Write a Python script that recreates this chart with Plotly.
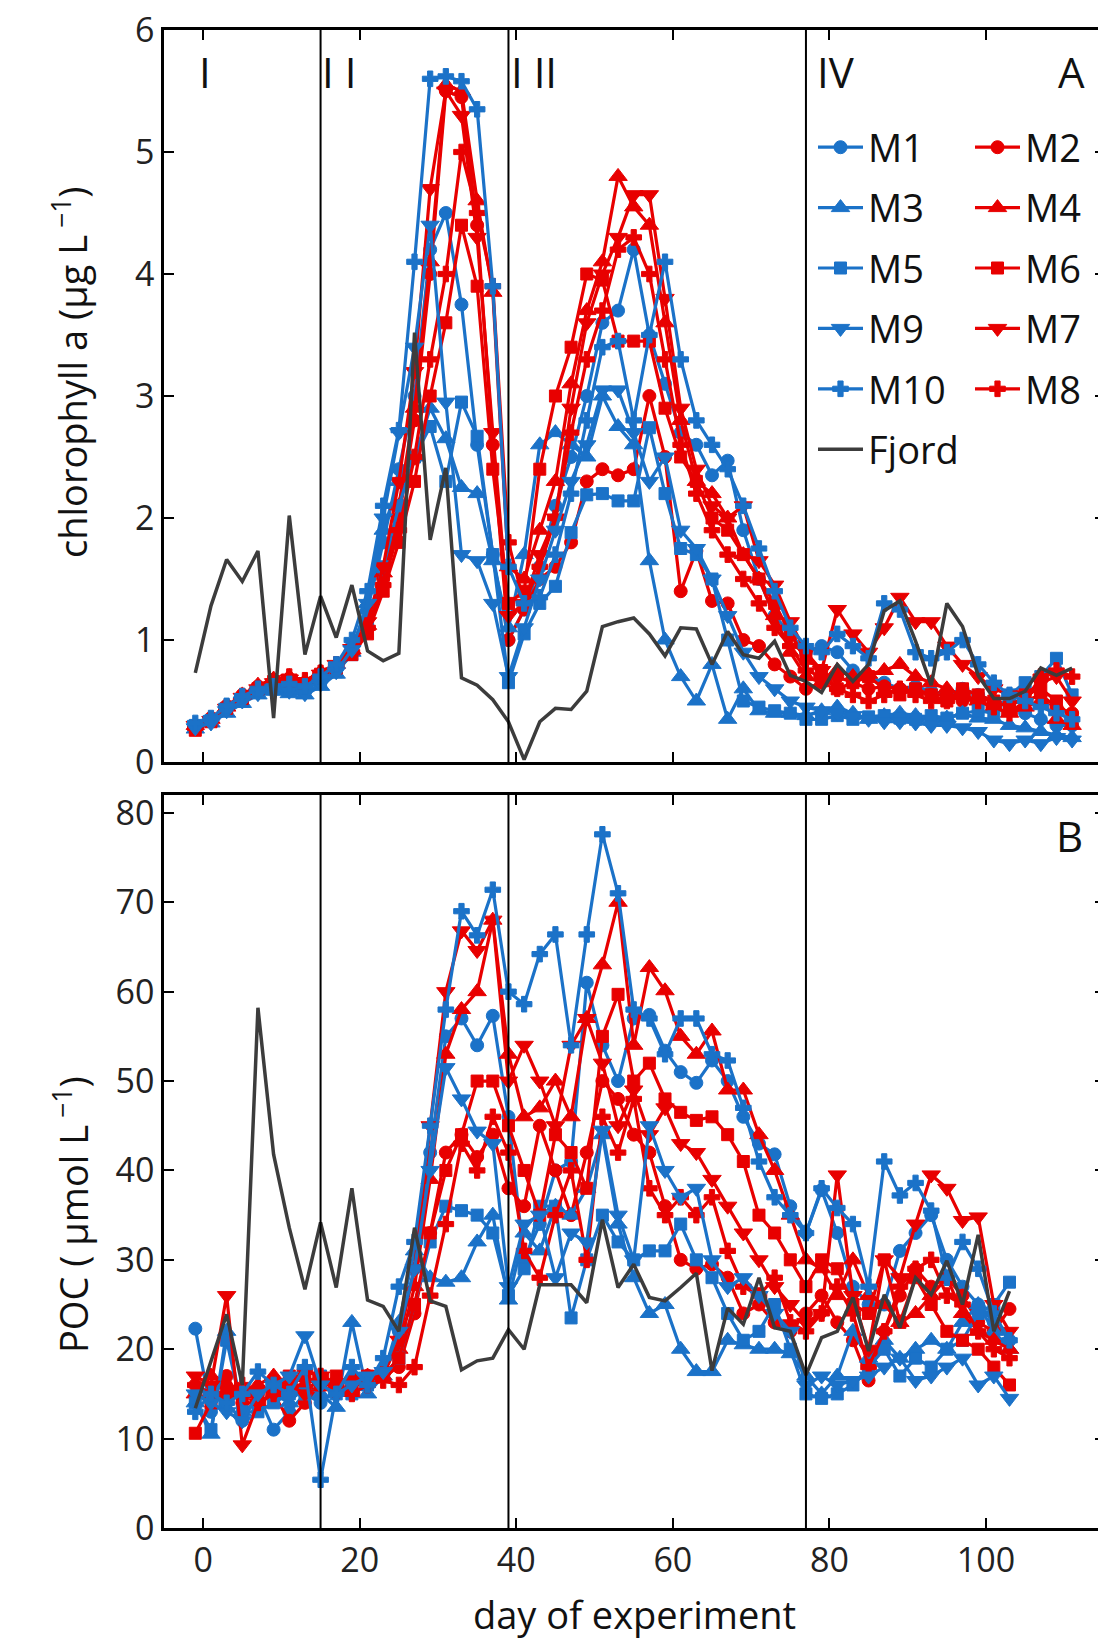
import plotly.graph_objects as go

# ---------------- data ----------------
days_chl = [-1, 1, 3, 5, 7, 9, 11, 13, 15, 17,
            19, 21, 23, 25, 27, 29, 31, 33, 35, 37,
            39, 41, 43, 45, 47, 49, 51, 53, 55, 57,
            59, 61, 63, 65, 67, 69, 71, 73, 75, 77,
            79, 81, 83, 85, 87, 89, 91, 93, 95, 97,
            99, 101, 103, 105, 107, 109, 111]
days_poc = [-1, 1, 3, 5, 7, 9, 11, 13, 15, 17,
            19, 21, 23, 25, 27, 29, 31, 33, 35, 37,
            39, 41, 43, 45, 47, 49, 51, 53, 55, 57,
            59, 61, 63, 65, 67, 69, 71, 73, 75, 77,
            79, 81, 83, 85, 87, 89, 91, 93, 95, 97,
            99, 101, 103]

chl_M1 = [0.30, 0.35, 0.45, 0.52, 0.58, 0.62, 0.60, 0.58, 0.68, 0.75,
          0.95, 1.25, 1.80, 2.40, 3.00, 4.20, 4.50, 3.75, 2.60, 1.70,
          1.00, 1.25, 1.60, 2.10, 2.50, 3.00, 3.60, 3.70, 4.20, 3.50,
          3.10, 2.70, 2.60, 2.35, 2.47, 1.90, 1.50, 1.20, 1.05, 0.90,
          0.95, 0.90, 0.75, 0.70, 0.65, 0.60, 0.62, 0.58, 0.55, 0.60,
          0.55, 0.50, 0.45, 0.40, 0.35, 0.30, 0.30]
chl_M2 = [0.28, 0.36, 0.46, 0.55, 0.62, 0.66, 0.68, 0.65, 0.72, 0.78,
          0.90, 1.10, 1.50, 2.00, 2.80, 4.00, 5.50, 5.45, 4.40, 2.60,
          1.00, 1.25, 1.50, 1.60, 1.80, 2.30, 2.40, 2.35, 2.40, 3.00,
          2.50, 1.40, 1.73, 1.32, 1.30, 1.00, 0.95, 0.80, 0.70, 0.60,
          0.65, 0.70, 0.65, 0.60, 0.62, 0.60, 0.58, 0.55, 0.55, 0.50,
          0.52, 0.50, 0.48, 0.50, 0.55, 0.45, 0.40]
chl_M3 = [0.27, 0.32, 0.40, 0.48, 0.55, 0.58, 0.56, 0.55, 0.62, 0.72,
          0.90, 1.30, 1.90, 2.30, 2.50, 2.90, 2.65, 2.25, 2.20, 1.65,
          1.10, 1.70, 2.60, 2.70, 2.60, 2.50, 3.00, 2.75, 2.60, 1.65,
          1.00, 0.70, 0.50, 0.80, 0.35, 0.60, 0.42, 0.40, 0.40, 0.38,
          0.42, 0.45, 0.40, 0.35, 0.38, 0.40, 0.38, 0.37, 0.36, 0.40,
          0.36, 0.35, 0.30, 0.28, 0.25, 0.22, 0.20]
chl_M4 = [0.30, 0.35, 0.45, 0.55, 0.63, 0.68, 0.70, 0.66, 0.74, 0.80,
          0.92, 1.12, 1.55, 2.10, 2.90, 4.10, 5.55, 5.50, 4.60, 3.85,
          1.60, 1.50, 1.90, 2.30, 3.10, 3.70, 4.10, 4.80, 4.55, 4.40,
          3.60, 2.80, 2.30, 2.20, 2.00, 1.70, 1.50, 1.20, 0.90, 0.70,
          0.65, 0.75, 0.70, 0.72, 0.75, 0.80, 0.70, 0.65, 0.60, 0.55,
          0.50, 0.45, 0.40, 0.45, 0.50, 0.35, 0.30]
chl_M5 = [0.30, 0.34, 0.42, 0.50, 0.57, 0.60, 0.62, 0.60, 0.66, 0.74,
          0.88, 1.15, 1.60, 2.10, 2.50, 2.75, 2.30, 2.95, 2.67, 1.70,
          0.65, 1.05, 1.30, 1.44, 1.88, 2.19, 2.20, 2.14, 2.14, 2.74,
          2.20, 1.75, 1.70, 1.50, 1.00, 0.50, 0.45, 0.42, 0.40, 0.35,
          0.35, 0.38, 0.35, 0.37, 0.38, 0.36, 0.35, 0.38, 0.36, 0.40,
          0.42, 0.40, 0.55, 0.65, 0.70, 0.85, 0.55]
chl_M6 = [0.26, 0.33, 0.44, 0.52, 0.60, 0.66, 0.66, 0.64, 0.72, 0.77,
          0.88, 1.05, 1.40, 1.80, 2.30, 3.00, 3.60, 4.40, 3.90, 2.40,
          1.30, 1.40, 2.40, 3.00, 3.40, 4.00, 3.95, 3.45, 3.45, 3.45,
          2.90, 2.50, 2.30, 2.00, 1.90, 1.70, 1.50, 1.30, 1.05, 0.85,
          0.75, 0.60, 0.65, 0.70, 0.60, 0.55, 0.60, 0.55, 0.50, 0.60,
          0.55, 0.50, 0.45, 0.55, 0.60, 0.50, 0.35]
chl_M7 = [0.30, 0.34, 0.44, 0.53, 0.60, 0.65, 0.68, 0.64, 0.72, 0.80,
          0.93, 1.15, 1.60, 2.30, 3.20, 4.70, 5.50, 5.30, 4.30, 2.70,
          1.20, 1.30, 1.70, 2.00, 2.90, 3.60, 4.00, 4.30, 4.65, 4.65,
          3.80, 2.90, 2.40, 2.10, 2.00, 2.10, 1.65, 1.45, 1.15, 0.90,
          0.75, 1.25, 1.05, 0.90, 1.10, 1.35, 1.15, 1.15, 0.95, 0.80,
          0.70, 0.60, 0.55, 0.55, 0.65, 0.70, 0.50]
chl_M8 = [0.28, 0.35, 0.45, 0.54, 0.60, 0.66, 0.70, 0.67, 0.73, 0.80,
          0.90, 1.10, 1.45, 1.90, 2.50, 3.30, 4.00, 5.00, 4.50, 3.90,
          1.80, 1.30, 1.60, 2.00, 2.70, 3.30, 3.70, 4.20, 4.30, 4.00,
          3.30, 2.60, 2.20, 1.90, 1.70, 1.50, 1.30, 1.10, 0.95, 0.75,
          0.70, 0.60, 0.55, 0.50, 0.55, 0.60, 0.55, 0.50, 0.50, 0.55,
          0.50, 0.45, 0.40, 0.50, 0.70, 0.75, 0.70]
chl_M9 = [0.28, 0.32, 0.42, 0.50, 0.56, 0.60, 0.58, 0.56, 0.64, 0.74,
          0.92, 1.30, 2.00, 2.70, 3.40, 4.40, 2.95, 1.70, 1.65, 1.30,
          0.70, 1.10, 1.50, 1.90, 2.30, 2.60, 3.05, 3.05, 2.70, 2.30,
          2.50, 1.90, 1.75, 1.50, 1.20, 0.90, 0.70, 0.60, 0.50, 0.45,
          0.42, 0.40, 0.38, 0.35, 0.33, 0.33, 0.32, 0.30, 0.30, 0.28,
          0.25, 0.18, 0.15, 0.18, 0.15, 0.20, 0.18]
chl_M10 = [0.32, 0.36, 0.46, 0.54, 0.60, 0.62, 0.64, 0.62, 0.70, 0.80,
           1.00, 1.40, 2.10, 2.72, 4.10, 5.60, 5.62, 5.58, 5.35, 3.90,
           1.60, 1.30, 1.35, 1.70, 2.20, 2.80, 3.40, 3.45, 2.80, 3.50,
           4.10, 3.30, 2.80, 2.60, 2.40, 2.10, 1.75, 1.40, 1.10, 0.95,
           0.90, 1.05, 0.95, 0.85, 1.30, 1.25, 0.90, 0.85, 0.90, 1.00,
           0.80, 0.65, 0.55, 0.50, 0.45, 0.40, 0.35]
chl_fjord = [0.73, 1.28, 1.66, 1.48, 1.73, 0.36, 2.02, 0.88, 1.36, 1.02,
             1.45, 0.91, 0.83, 0.89, 3.52, 1.82, 2.41, 0.69, 0.63, 0.51,
             0.33, 0.02, 0.33, 0.44, 0.43, 0.58, 1.11, 1.15, 1.18, 1.05,
             0.87, 1.10, 1.09, 0.80, 1.07, 0.88, 0.85, 0.99, 0.71, 0.66,
             0.57, 0.80, 0.66, 0.80, 1.24, 1.32, 0.99, 0.63, 1.30, 1.11,
             0.71, 0.52, 0.52, 0.58, 0.77, 0.71, 0.77]

poc_M1 = [22.3, 13, 14, 12, 15, 11, 13, 15, 14, 15.5,
          16, 17, 17.5, 22, 29, 42, 55, 57, 54, 57.3,
          46, 30, 34, 40, 41, 61, 54, 50, 57, 57.4,
          53.4, 51, 49.8, 52.3, 50, 46, 43, 41.8, 36, 33,
          37.8, 33, 27, 25, 25, 31, 33, 35, 30, 27,
          25, 23, 21]
poc_M2 = [16, 15, 17, 14, 14, 15, 12, 14, 16, 15,
          15.5, 17, 17, 18, 24, 33, 42, 44, 41.5, 44,
          38, 36, 45, 40, 35, 42, 50, 48, 44, 42,
          36, 30, 29, 29.5, 28, 24, 25, 23, 22, 24,
          26, 23, 21, 16.5, 22, 26, 29, 27, 28, 26,
          23, 22, 24.5]
poc_M3 = [14, 10.5, 22, 13, 14, 15, 14, 16, 15, 13.5,
          23, 15, 17, 23, 31, 28, 27.5, 28, 32, 35,
          25.5, 33, 31, 36, 35, 38, 44, 34, 28, 24,
          25, 20, 17.5, 17.5, 21, 20.5, 20, 20, 19.5, 17,
          15, 17, 22, 19, 21, 19, 20, 21, 20, 23,
          25, 22, 20]
poc_M4 = [15, 17, 16, 15, 16, 17, 16, 16, 17, 16,
          17, 17, 18, 20, 27, 39, 53, 58, 60, 68,
          53, 46, 47, 50, 46, 57, 63, 70, 54, 62.7,
          60.1, 55, 53, 55.6, 49, 49, 44, 40, 35, 30,
          29, 26, 30, 26, 25, 23, 24, 26, 28, 24,
          22, 21, 20]
poc_M5 = [14, 11, 21, 13, 13, 14, 15, 15, 17, 15,
          15, 16, 17, 19, 25, 32, 36, 35.5, 35, 33,
          26, 29, 36, 36, 23.5, 30, 35, 32, 30, 31,
          31, 34, 30, 28, 24, 21, 22, 25, 20, 15,
          14.5, 15, 16, 18, 20, 17, 19, 18, 20, 21,
          24, 25, 27.5]
poc_M6 = [10.6, 14, 15, 15, 15, 16, 17, 17, 16, 17,
          16, 17, 17, 19, 25, 33, 40, 44, 50, 50,
          45, 40, 35, 44, 42, 38, 55, 59.7, 50, 52,
          48, 46.5, 45.6, 46, 44, 41, 35, 33, 30, 27,
          30, 29, 25, 24, 30, 23, 28, 25, 22, 21,
          20, 18, 16]
poc_M7 = [17, 16, 26, 9.3, 14, 15, 16, 15, 17, 15,
          16, 16.5, 17, 21, 29, 45, 60, 66.8, 64.6, 68,
          50, 54, 50, 45, 54, 57, 52, 45, 49, 44,
          47, 43, 42, 39, 36, 33, 30, 27, 25, 23,
          24, 39.5, 26, 20, 30, 28, 34, 39.5, 38, 34.4,
          34.8, 25, 22]
poc_M8 = [16, 15, 15, 16, 14, 15, 16, 17.5, 17, 16,
          15, 16, 16.5, 16, 18, 26, 34, 43, 40, 46,
          42, 31, 28, 35, 40, 30, 46, 42, 48, 38,
          35, 37, 35, 37, 31, 27, 26, 28, 23, 22,
          24, 27, 24, 18, 22, 27, 29, 30, 26, 25,
          22, 20, 19]
poc_M9 = [15, 14, 13, 12, 15, 16, 17, 21.5, 16, 15,
          16, 17, 17.5, 22, 29, 40, 51.5, 48, 44.4, 43,
          27, 34, 35, 28, 33, 32, 44.5, 35, 30, 45,
          40, 37, 38, 30, 27, 28, 26, 24, 22, 16,
          17, 16, 16.5, 17, 18, 19, 16.5, 17, 18, 19,
          16, 17, 14.5]
poc_M10 = [13, 15, 14, 15, 17.5, 16, 15, 18, 5.4, 15,
           18, 16, 19, 27, 32, 45, 58, 69, 66.3, 71.4,
           60, 58.6, 64.2, 66.4, 54, 66.4, 77.6, 71, 58, 57,
           53, 57, 57, 53, 52.3, 47, 41, 37, 35, 33,
           38, 35.8, 34, 27, 41, 37.2, 38.6, 35.5, 28, 32,
           29, 24, 21]
poc_fjord = [13.4, 18.5, 23.9, 16, 58.2, 41.8, 33.6, 26.7, 34.2, 26.9,
             38, 25.5, 24.8, 22, 33.6, 25.4, 24.8, 17.7, 18.7, 19,
             22.2, 20, 27.2, 27.2, 27.2, 25.2, 34.5, 26.9, 29.5, 25.8,
             25.4, 26.9, 28.5, 17.6, 24.6, 22.8, 28, 22.4, 22, 17.1,
             21.3, 22, 25.8, 19.8, 26.1, 22.4, 28, 26.1, 29.9, 25,
             32.8, 22, 26.5]

phase_bounds = [15, 39, 77]
phase_labels = ["I", "I I", "I II", "IV"]
phase_label_x = [0.2, 17.3, 42.3, 80.8]
x_ticks = [0, 20, 40, 60, 80, 100]
chl_ticks = [0, 1, 2, 3, 4, 5, 6]
poc_ticks = [0, 10, 20, 30, 40, 50, 60, 70, 80]

# ---------------- style ----------------
BLUE = "#1b72c8"
RED = "#e80000"
GREY = "#3c3c3c"
FONT = "Open Sans"
TXT = "#111111"

series = [
    ("M1", BLUE, "circle", 13, chl_M1, poc_M1, "legend"),
    ("M2", RED, "circle", 13, chl_M2, poc_M2, "legend2"),
    ("M3", BLUE, "triangle-up", 16, chl_M3, poc_M3, "legend"),
    ("M4", RED, "triangle-up", 16, chl_M4, poc_M4, "legend2"),
    ("M5", BLUE, "square", 12, chl_M5, poc_M5, "legend"),
    ("M6", RED, "square", 12, chl_M6, poc_M6, "legend2"),
    ("M7", RED, "triangle-down", 16, chl_M7, poc_M7, "legend2"),
    ("M8", RED, "cross", 13, chl_M8, poc_M8, "legend2"),
    ("M9", BLUE, "triangle-down", 16, chl_M9, poc_M9, "legend"),
    ("M10", BLUE, "cross", 13, chl_M10, poc_M10, "legend"),
]

fig = go.Figure()
for name, col, sym, sz, chl, poc, lg in series:
    mk = dict(symbol=sym, size=sz, color=col, line=dict(color=col, width=1))
    fig.add_trace(go.Scatter(x=days_chl, y=chl, mode="lines+markers", name=name,
                             line=dict(color=col, width=3.2), marker=mk,
                             legendgroup=name, legend=lg, xaxis="x", yaxis="y"))
    fig.add_trace(go.Scatter(x=days_poc, y=poc, mode="lines+markers", name=name,
                             line=dict(color=col, width=3.2), marker=mk,
                             legendgroup=name, legend=lg, showlegend=False,
                             xaxis="x2", yaxis="y2"))
fig.add_trace(go.Scatter(x=days_chl, y=chl_fjord, mode="lines", name="Fjord",
                         line=dict(color=GREY, width=3.5), legendgroup="Fjord",
                         legend="legend", xaxis="x", yaxis="y"))
fig.add_trace(go.Scatter(x=days_poc, y=poc_fjord, mode="lines", name="Fjord",
                         line=dict(color=GREY, width=3.5), legendgroup="Fjord",
                         legend="legend", showlegend=False, xaxis="x2", yaxis="y2"))

axis_common = dict(showline=True, linecolor="black", linewidth=2.5, mirror="ticks",
                   ticks="inside", ticklen=10, tickwidth=2, tickcolor="black",
                   showgrid=False, zeroline=False, automargin=False,
                   ticklabeloverflow="allow",
                   tickfont=dict(family=FONT, size=34, color="#222"))

W, H = 1106, 1642
ml, mr, mt, mb = 156, 9, 22, 122
ph = H - mt - mb
pw = W - ml - mr
top_dom = [(1520 - 754) / ph, 1.0]
bot_dom = [0.0, (1520 - 787) / ph]

shapes = []
for b in phase_bounds:
    for yr in ["y domain", "y2 domain"]:
        xr = "x" if yr == "y domain" else "x2"
        shapes.append(dict(type="line", xref=xr, yref=yr, x0=b, x1=b, y0=0, y1=1,
                           line=dict(color="black", width=2)))

ann = []
for lab, xv in zip(phase_labels, phase_label_x):
    ann.append(dict(text=lab, x=xv, y=5.66, xref="x", yref="y", showarrow=False,
                    xanchor="center", yanchor="middle",
                    font=dict(family=FONT, size=42, color=TXT)))
ann.append(dict(text="A", x=1.0, y=5.66, xref="x domain", yref="y", xanchor="right",
                yanchor="middle", xshift=-18, showarrow=False,
                font=dict(family=FONT, size=42, color=TXT)))
ann.append(dict(text="B", x=1.0, y=77.5, xref="x2 domain", yref="y2", xanchor="right",
                yanchor="middle", xshift=-20, showarrow=False,
                font=dict(family=FONT, size=42, color=TXT)))
ann.append(dict(text="chlorophyll a (μg L<sup> −1</sup>)", textangle=-90,
                x=(63 - ml) / pw, y=(1520 - 364) / ph, xref="paper", yref="paper",
                xanchor="center", yanchor="middle", showarrow=False,
                font=dict(family=FONT, size=38, color=TXT)))
ann.append(dict(text="POC ( μmol L<sup> −1</sup>)", textangle=-90,
                x=(63 - ml) / pw, y=(1520 - 1207) / ph, xref="paper", yref="paper",
                xanchor="center", yanchor="middle", showarrow=False,
                font=dict(family=FONT, size=38, color=TXT)))
ann.append(dict(text="day of experiment", x=0.5, y=(1520 - 1606) / ph, xref="paper",
                yref="paper", xanchor="center", yanchor="middle", showarrow=False,
                font=dict(family=FONT, size=38, color=TXT)))

legend_common = dict(xref="paper", yref="paper", xanchor="left", yanchor="top",
                     bgcolor="rgba(0,0,0,0)", borderwidth=0, traceorder="grouped",
                     tracegroupgap=8, itemwidth=45,
                     font=dict(family=FONT, size=38, color=TXT))

fig.update_layout(
    width=W, height=H, margin=dict(l=ml, r=mr, t=mt, b=mb, pad=0, autoexpand=False),
    paper_bgcolor="white", plot_bgcolor="white",
    font=dict(family=FONT, color=TXT),
    xaxis=dict(axis_common, domain=[0, 1], anchor="y", range=[-5, 115.2],
               tickvals=x_ticks, showticklabels=False),
    yaxis=dict(axis_common, domain=top_dom, anchor="x", range=[0, 6], tickvals=chl_ticks),
    xaxis2=dict(axis_common, domain=[0, 1], anchor="y2", range=[-5, 115.2], matches="x",
                tickvals=x_ticks),
    yaxis2=dict(axis_common, domain=bot_dom, anchor="x2", range=[0, 82], tickvals=poc_ticks),
    legend=dict(legend_common, x=(805 - ml) / pw, y=(1520 - 108) / ph),
    legend2=dict(legend_common, x=(962 - ml) / pw, y=(1520 - 108) / ph),
    shapes=shapes, annotations=ann, showlegend=True,
)

fig.write_html("out.html")
